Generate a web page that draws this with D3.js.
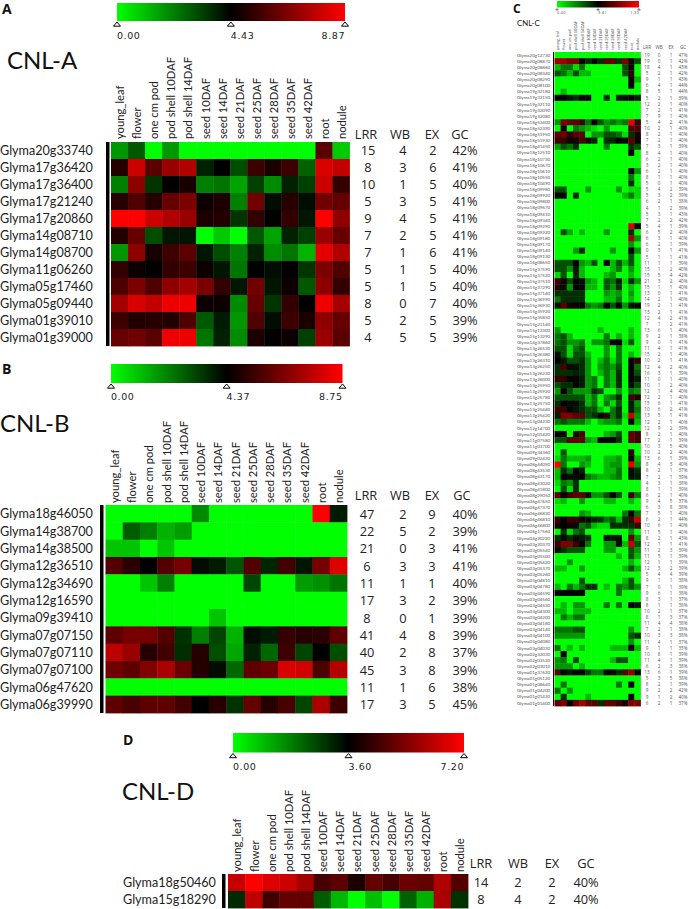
<!DOCTYPE html>
<html><head><meta charset="utf-8">
<script src="https://cdnjs.cloudflare.com/ajax/libs/d3/7.8.5/d3.min.js"></script>
<style>html,body{margin:0;padding:0;background:#fff}svg{display:block}</style>
</head><body><svg id="c" width="689" height="909"></svg>
<script>
const tissues=["young_leaf","flower","one cm pod","pod shell 10DAF","pod shell 14DAF","seed 10DAF","seed 14DAF","seed 21DAF","seed 25DAF","seed 28DAF","seed 35DAF","seed 42DAF","root","nodule"];
const metricNames=["LRR","WB","EX","GC"];

const genesA=["Glyma20g33740","Glyma17g36420","Glyma17g36400","Glyma17g21240","Glyma17g20860","Glyma14g08710","Glyma14g08700","Glyma11g06260","Glyma05g17460","Glyma05g09440","Glyma01g39010","Glyma01g39000"];
const metricsA=[[15,4,2,"42%"],[8,3,6,"41%"],[10,1,5,"40%"],[5,3,5,"41%"],[9,4,5,"41%"],[7,2,5,"41%"],[7,1,6,"41%"],[5,1,5,"40%"],[5,1,5,"40%"],[8,0,7,"40%"],[5,2,5,"39%"],[4,5,5,"39%"]];
const valuesA=[
[1.8,2.9,0,1.8,0,0,0,0,0,0,0,0,6,0.9],
[5.1,8,6,7.1,7.5,3.8,4.4,3.1,5.5,4.9,5.5,2.7,8.2,7.8],
[2.2,6.9,3.5,4.5,4.8,2.2,2.4,1.6,3.3,2,3.8,3.3,8,5.3],
[5.1,5.8,5.1,6.2,6.6,4.7,4.9,2.2,6.4,4.2,5.1,4.2,6.4,6.2],
[8.87,8.87,8,7.5,7.1,4.9,5,3.5,5.3,4.4,5.3,4,8.87,6.9],
[5,6.2,3.1,4,4.1,0,0.9,0,2.9,1.6,3.8,3.3,7.1,6.2],
[1.8,6.9,4.8,5.5,6,4,3.1,2.2,3.8,2,2.4,1.3,8.4,7.5],
[5.3,4.7,4.4,5.3,5.5,4.6,4,2.4,4.4,4.2,4.4,3.5,6.6,5.8],
[5.8,6.6,5.8,6.9,7.3,6.6,5.3,4.1,6.4,4.1,4.7,2.9,6.9,5.3],
[7.3,8.2,7.8,8.6,8.6,4.7,4.7,2,6.2,3.5,5.3,4.4,8.6,7.3],
[5.5,5,5.1,5,5.8,2.9,3.9,1.8,5.8,4.2,5.5,4.9,6.9,6.2],
[6.2,6.4,6,8.6,8.6,2.4,3.8,2,4.9,4.4,4.7,3.3,7.1,6]];

const genesB=["Glyma18g46050","Glyma14g38700","Glyma14g38500","Glyma12g36510","Glyma12g34690","Glyma12g16590","Glyma09g39410","Glyma07g07150","Glyma07g07110","Glyma07g07100","Glyma06g47620","Glyma06g39990"];
const metricsB=[[47,2,9,"40%"],[22,5,2,"39%"],[21,0,3,"41%"],[6,3,3,"41%"],[11,1,1,"40%"],[17,3,2,"39%"],[8,0,1,"39%"],[41,4,8,"39%"],[40,2,8,"37%"],[45,3,8,"39%"],[11,1,6,"38%"],[17,3,5,"45%"]];
const valuesB=[
[0,0,0,0,0,2,0,0,0,0,0,0,8.75,3.9],
[0,2.8,2.2,1.3,1.7,0,0,0,0,0,0,0,0,0],
[1,1,0,1,0,0,0,0,0,0,0,0,0,0],
[5.8,5.1,4.3,5.8,6.4,4.1,3.9,2.9,5.8,3.7,5.5,4,6.4,8.2],
[0,0,1,2.2,0,0,0,0,3.2,0,0,1.7,1.9,2.4],
[0,0,0,0,0,0,0,0,0,0,0,0,0,0],
[0,0,0,0,0,0,1,0,0,0,0,0,0,0],
[6,6.4,6.4,5.8,3.5,2.2,3.2,1.3,4.1,3.9,5.3,5,5.1,6],
[7.6,7,5,5.5,3.6,5,3,1.5,3.8,2.6,5.4,3.2,4.37,3],
[6.3,6,6.6,7.3,6.2,5,4.2,2.6,6,6.2,8.1,8,5.7,7.5],
[0,0,0,0,0,0,0,0,0,0,0,0,0,0],
[6,5.6,6,6,5.5,4.4,5,3.5,6.1,5,5.6,3.2,7.3,5.4]];

const genesD=["Glyma18g50460","Glyma15g18290"];
const metricsD=[[14,2,2,"40%"],[8,4,2,"40%"]];
const valuesD=[
[6.4,7.2,6.7,6.5,5.9,4.6,4.9,4,5,4.6,5.1,5,6.1,4.8],
[3,6.3,4.5,5,5,2.3,1,0,0.9,0,2.2,1.1,6,2.9]];

const genesC=["20g12730","20g08870","20g08860","20g08340","20g08290","20g08100","19g32180","19g32150","19g32110","19g32090","19g32080","18g52400","18g52390","18g51950","18g51930","18g41450","18g12510","18g10730","18g10670","18g10610","18g10550","18g10490","18g09980","18g09920","18g09800","18g09670","18g09410","18g09340","18g09290","18g09220","18g09180","18g09170","18g09140","18g09130","16g08650","15g37590","15g37520","15g37510","15g37290","15g37140","15g36990","15g36930","15g35920","15g35850","15g21140","15g13300","15g13290","14g37860","13g26530","13g26380","13g26310","13g26250","13g26230","13g26000","13g25950","13g25920","13g25780","13g25750","13g25440","13g25420","13g04230","12g14700","12g01420","11g07580","11g03700","09g34360","09g02420","08g44090","08g43530","08g43170","08g43020","08g41800","08g29050","06g47650","06g47370","06g46830","06g46810","06g46800","06g17560","04g20220","03g20370","03g05540","03g05500","03g05420","03g05370","03g05260","03g04810","03g04780","03g04590","03g04560","03g04530","03g04300","03g04200","03g04180","03g04140","03g04100","03g04080","03g04030","02g32030","02g03520","02g03010","01g37620","01g05120","01g08640","01g04200","01g01420","01g01400"].map(g=>"Glyma"+g);
const metricsC=[[19,0,1,"47%"],[19,0,1,"42%"],[18,4,1,"43%"],[5,2,1,"42%"],[9,1,1,"43%"],[6,4,1,"44%"],[8,5,1,"44%"],[5,2,1,"39%"],[12,2,1,"40%"],[7,2,1,"41%"],[7,9,1,"40%"],[5,4,2,"41%"],[10,2,1,"40%"],[8,2,1,"40%"],[7,2,1,"40%"],[7,3,1,"39%"],[8,4,1,"40%"],[6,2,1,"40%"],[3,2,1,"40%"],[6,2,1,"40%"],[8,1,1,"40%"],[5,0,1,"40%"],[5,4,2,"39%"],[5,3,2,"39%"],[6,2,1,"38%"],[4,1,2,"39%"],[5,3,1,"43%"],[7,2,2,"42%"],[5,4,1,"39%"],[6,5,2,"40%"],[6,3,1,"40%"],[6,2,1,"39%"],[0,3,1,"41%"],[5,1,1,"41%"],[11,1,1,"39%"],[15,1,2,"40%"],[15,5,4,"42%"],[21,3,2,"40%"],[15,1,1,"40%"],[13,0,1,"41%"],[14,2,1,"40%"],[19,2,1,"41%"],[13,2,1,"41%"],[12,4,2,"41%"],[7,1,2,"41%"],[13,6,1,"40%"],[9,2,1,"38%"],[9,0,1,"41%"],[11,4,1,"41%"],[15,2,1,"40%"],[10,2,1,"41%"],[12,4,2,"40%"],[16,3,1,"39%"],[11,0,1,"40%"],[10,1,2,"40%"],[12,1,4,"40%"],[12,2,1,"40%"],[15,6,1,"41%"],[10,6,2,"41%"],[13,5,1,"41%"],[12,2,1,"40%"],[12,9,2,"39%"],[8,2,1,"40%"],[17,2,1,"39%"],[10,3,5,"40%"],[10,2,2,"40%"],[13,6,1,"39%"],[8,4,3,"40%"],[8,2,1,"37%"],[7,2,1,"39%"],[4,3,1,"38%"],[8,1,1,"39%"],[6,2,1,"40%"],[9,4,5,"37%"],[6,3,8,"38%"],[7,5,1,"40%"],[6,2,1,"44%"],[10,6,1,"40%"],[11,5,1,"40%"],[8,2,1,"43%"],[12,1,1,"41%"],[11,2,3,"39%"],[11,5,1,"39%"],[12,1,1,"39%"],[12,3,2,"39%"],[5,4,4,"39%"],[9,1,1,"38%"],[7,0,1,"39%"],[9,6,1,"38%"],[8,3,1,"37%"],[8,1,1,"38%"],[10,2,1,"37%"],[8,1,3,"37%"],[11,4,4,"38%"],[7,2,1,"38%"],[10,3,3,"38%"],[11,4,1,"37%"],[9,1,1,"35%"],[10,8,1,"39%"],[11,4,1,"39%"],[6,2,3,"38%"],[13,6,1,"39%"],[5,3,5,"38%"],[8,2,1,"39%"],[9,2,2,"42%"],[9,1,2,"40%"],[6,2,1,"37%"]];
const valuesC=[
[0,0,0,0,0,0,0,0,0,0,0,0,0,0],
[6,6,5.5,5.5,3.7,3,3.6,3,5,5,3,5.5,3.7,2.5],
[1,2,2,0.5,2,0,0,0,0,0,0,2.5,3.9,0],
[2.5,2,1,2.5,1,1,0,0,0,0,0,2.5,4.3,0],
[0,0,0,0,0,0,0,0,0,0,0,0,3.7,1],
[0,0,0,0,0,0,0,0,0,0,0,0,3.7,0],
[0,1,0,0,0,0,0,0,0,0,0,0,0,0],
[3.7,3.7,3.4,3,3.6,3.6,0,0,3,0,3.3,3.5,3.7,3.3],
[0,0,0,0,0,0,0,0,0,0,0,0,0,0],
[0,0,0,0,0,0,0,0,0,0,0,0,0,0],
[0,0,0,0,0,0,0,0,0,0,0,0,0,0],
[1.5,5.5,5,5,4.5,2,3.7,2.5,1.5,2,1.5,2,7,4.5],
[0,3.9,0,2,1.5,1,0.5,0,1.5,0,0,0,4.8,4.8],
[5,5.2,4.3,5,5,0,1.5,1.5,2.5,2.5,2,0.5,3,4],
[4.5,4.5,3.8,4,4.7,4,3.3,0,3,3.2,3.7,3.6,5,3.7],
[1.5,2.5,2,3,0,0,0,0,2,0,0,0,3,2.5],
[0,0,0,0,0,0,0,0,0,0,0,0,3.7,0],
[0,0,0,0,0,0,0,0,0,0,0,0,0,0],
[0,0,0,0,0,0,0,0,0,0,0,0,0,0],
[0,0,0,0,0,0,0,0,0,0,0,0,3.7,1.5],
[0,0,0,0,0,0,0,0,0,0,0,0,2,0],
[0,0,0,0,0,0,0,0,0,0,0,0,3,0],
[2.5,2.5,0,0,0,1.5,0,0,0,0,1.5,0,0.5,0.5],
[3.7,3.7,0,3,0,0,0,0,0,0,0,1,2,0.5],
[0,0,0,0,0,0,0,0,0,0,0,0,0,0],
[0,0,0,0,0,0,0,0,0,0,0,0,0,0],
[0,0,0,0,0,0,0,0,0,0,0,0,0,0],
[0,0,0,0,0,0,0,0,0,0,0,0,0,0],
[0,0,0,0,0,0,0,0,0,0,0,0,6.8,3.7],
[0,2.5,1.2,0,1,0,0,0,1.5,0,0,0,3,0],
[0,0,0,0,0,0,0,0,0,0,0,0,6,1.5],
[0,0,0,0,0,0,0,0,0,0,0,0,1.5,0],
[0,0,0,1.5,3,0,0,0,0,1.5,0,0,3.7,1.5],
[0,0,0,0,0,0,0,0,0,0,0,0,2.5,0],
[2.5,2.5,2.5,3.7,1.5,1,2.5,0,3.7,1,2.5,1,2.5,0],
[2.5,2.5,1.5,3.3,1,0,0,0,0,1,2,0,1.5,0],
[0.5,2.5,0,3.2,1,0,0,0,1,1.5,0,0,1,0],
[4.5,4,2.5,3.7,3.5,1.5,1,0,2.5,2,3.3,0.5,3,1.5],
[4.2,3.5,1.5,3.6,3.6,1,1,0,2.5,1.5,3,0,1,0],
[3,3,3,3,3,0,0,0,1.5,1,1.5,0,1.5,0],
[2,3,3,3,3,0,0,0,1,1,2,0,1,0],
[3.5,5,4,3.9,3.8,2,1.5,2,3.7,2.5,3.7,1.5,3.5,3.7],
[0,0,0,0,0,0,0,0,0,0,0,0,0,0],
[0,0,0,0,0,0,0,0,0,0,0,0,0,0],
[0,0,0,0,0,0,0,0,0,0,0,0,0,0],
[1.5,0,0,0,0,0,0,1,0,0,0,0,1,0],
[2,2.5,1,0,0,0,0,0,2,0,1,0,1,0],
[2,2.5,1.5,1.5,2,0,1.5,1.5,2,3.7,3.7,0.5,2.5,0],
[2.5,2.5,0.5,2,2.5,0,0,0,1.5,0,2,0,0,0],
[3.5,2.5,0.5,2.5,2.5,1,0,0,1.5,0,2,0,1,0],
[3.7,3.3,2.5,2.5,3,1.5,0,1,2,0.5,2,0,3.7,4.4],
[3,4.7,3.5,3.5,3,1.5,0,1.5,2,1.5,2.5,0,3.7,2],
[3,3,3,3.2,3,1.5,0,1,2,1,3,0,3.7,2.5],
[4.4,4.4,3.6,3.7,3.3,1.5,2,0,2,1,3,0,3.7,3.3],
[2.5,3,3,3.7,3.3,1.5,2,0,2,1,3,0,3.5,2.5],
[1.5,3.7,2.5,1.5,1.5,1.5,3,2.5,0,0,1.5,0,2,1.5],
[2.5,2.5,2.5,2.5,2.5,1,2,0,1.5,2,3,0,4.5,4.2],
[3,3.7,3.5,3.5,3,1,2,0,2,0.5,2.5,0,3.3,1.5],
[4.5,4.5,3.7,3.4,3,2.5,2.5,1,0,2,3,0,3.3,2],
[3.3,5.5,5.5,5,5,2.5,3,3.7,4.3,2,3,0.5,6.5,1.5],
[2,2.5,2,2,2,1,0,1,1.5,1.5,2,0,3.7,1],
[0,0,0,0,0,0,0,0,0,0,0,0,0,0],
[3.7,3.7,0,3.4,4.8,0,0,0,1,1.5,2.5,0,5,4.5],
[2.5,2.5,5,5,5,1.5,1,3.7,3.7,3.7,3,0,5,4.5],
[0,0,0,0,0,0,0,0,0,0,0,0,0,0],
[0,2.5,0,0,0,0,0,0,0,0,0,0,4.2,0],
[0.5,2,1,1,1,1.5,0,0,1,1,1.5,0,3.7,1],
[7.3,2,0,0,1.5,1,0,0,1,1.5,1.5,0,7,1.5],
[1,3,2,3.7,3.2,0,0,0,1,1,2,0,3.5,3],
[1,3.7,3.5,3.5,3.7,2,1.5,1,1,1.5,2,0,3.5,3.3],
[0.5,2,1.5,3,0,0,0,0,0,0,0,0,0,0],
[0,2.5,0.5,3,0,0,0,0,0,0,0,0,0,0],
[5,3.7,4.5,5,5,3.5,1.5,1.5,2.5,3.7,2.5,0,4.5,2],
[0.5,1,0,0,1.5,0,0,0,1,1,0,0,1,0],
[0,0,0,0,0,0,0,0,0,0,0,0,0,0],
[0,0,0,0,1.5,1,0,0,0,0,0,2,3.7,2],
[4.5,3.7,4.5,4.5,3.8,3.5,3.2,3,2,2.5,1,3,4.5,6.5],
[4,3.7,4,3.5,2,2.5,1,0.5,0.5,3,3,3,3,4.5],
[0,3,0.5,2,2.5,0,0,0,0,0,0,0,1.5,0],
[3,3.5,3,3.5,3.3,3,0,0,3.5,3.3,3.5,0,5,1.5],
[4.5,5.5,5.5,4.5,3.7,2,0,0,1.5,1.5,3.5,1,6.5,2.5],
[3.5,3,2.5,2.5,2.5,0,0,0,1.5,1.5,0,0,2.5,1.5],
[0,0,0,0,0,0,0,0,0,0,1,0,2.5,1],
[0,0,1.5,0,0,0,0,0,0,0,0,0,1,0],
[1,1,0,0,1.5,0,0,0,0,0,0,1,2.5,1],
[0,0,0,0,0,0,0,0,0,0,0,0,0,0],
[0,0,0,0,2.5,0,0,0,0,0,0,1,2.5,0],
[1,0,2,1,2,3,3,0,1,0,2,1.5,2.5,1.5],
[3.7,3.7,3.7,3.7,3.7,0,0,0,0,0,2,0,0,0],
[0,0,0,0,0,0,0,0,0,0,0,0,0,0],
[0,1,0,1.5,1.5,0,0,0,2,0,2,0,3.7,3.3],
[1,1,0,1,1,1,0,0,0,0,0,0,0,0],
[0,2,1,2,2,0,0,0,0,0,0,0,0,0],
[0,0,0,0,0,0,0,0,0,0,0,0,0,0],
[2,2,2,2.5,2.5,0,0,0,0,0,0,0,1.5,0],
[1.5,1.5,1.5,1.5,1.5,0,0,0,0,0,0,0,2.5,3],
[0,0,0,0,0,0,0,0,0,0,0,0,1.5,0],
[2,0,1,0,1,0,0,0,0,1,1,1,3.7,1],
[0,3.7,0,0,0,0,0,0,0,0,0,0,0,0],
[1.5,2,0,2.5,0,0,0,0,0,1,2.5,2.5,0,0],
[1.5,1.5,1.5,0,1,0,0,0,0,0,0,0,0,0],
[5,3.7,3.4,3.7,3.7,2.8,2,2,3.7,4,3,5,5.8,3.7],
[0,0,0,0,0,0,0,0,0,0,0,0,0,0],
[0,2,0,0,0,0,0,0,0,0,2,0,3.7,0],
[2,0,1.5,0,0,0,0,0,0,0,0,0,0,0],
[0,3,0,0,0,1,0,0,0,0,0,0,3.7,0],
[5,5.5,3.7,5.2,6,5,5,3,5,5,4.5,4,5.5,5.5]];

const rangeA=[0,4.43,8.87], rangeB=[0,4.37,8.75], rangeC=[0,3.67,7.33], rangeD=[0,3.60,7.20];

const FONT='Lato,"Open Sans",sans-serif', NUMFONT='"Open Sans","Noto Sans",sans-serif', BARFONT='"DejaVu Sans",sans-serif';
const svg=d3.select("#c");
const [G,K,R]=["#00ff00","#000000","#ff0000"];
let gid=0;
const defs=svg.append("defs");

function panel(o){
  const color=d3.scaleLinear().domain(o.range).range([G,K,R]);
  const x=d3.scaleBand().domain(d3.range(tissues.length)).range([o.x0,o.x1]);
  const y=d3.scaleBand().domain(d3.range(o.genes.length)).range([o.y0,o.y1]);
  const g=svg.append("g");
  const id="grad"+(gid++);
  const grad=defs.append("linearGradient").attr("id",id);
  grad.selectAll("stop").data(o.range).join("stop")
    .attr("offset",(d,i)=>i/2).attr("stop-color",d=>color(d));
  defs.append("filter").attr("id",id+"b").attr("x","-5%").attr("y","-5%").attr("width","110%").attr("height","110%")
    .append("feGaussianBlur").attr("stdDeviation",o.blur);
  const bar=d3.scaleLinear().domain([o.range[0],o.range[2]]).range([o.barX0,o.barX1]);
  g.append("rect").attr("x",o.barX0).attr("y",o.barY0).attr("width",o.barX1-o.barX0).attr("height",o.barY1-o.barY0).attr("fill",`url(#${id})`);
  const tri=o.tri;
  g.selectAll(".tri").data(o.range).join("path")
    .attr("d",d=>`M${bar(d)-tri},${o.barY1+tri*1.2+1}L${bar(d)},${o.barY1+1}L${bar(d)+tri},${o.barY1+tri*1.2+1}Z`)
    .attr("fill","#fff").attr("stroke","#000").attr("stroke-width",o.tri>2?1:0.5);
  g.selectAll(".tick").data(o.range).join("text")
    .attr("x",d=>bar(d)).attr("y",o.tickY).attr("text-anchor",(d,i)=>i==2?"end":"start")
    .attr("font-family",BARFONT).attr("font-size",o.tickSize).attr("letter-spacing",o.tickSize*0.06).attr("fill",o.ink)
    .text(d=>d.toFixed(2));
  g.append("text").attr("x",o.letterX).attr("y",o.letterY).attr("font-family",NUMFONT).attr("font-weight",700).attr("font-size",o.letterSize).attr("fill","#111").text(o.letter);
  g.append("text").attr("x",o.titleX).attr("y",o.titleY).attr("font-family",FONT).attr("font-size",o.titleSize).attr("fill","#111").text(o.title);
  const cells=o.values.flatMap((r,i)=>r.map((v,j)=>({i,j,v})));
  g.append("g").attr("filter",`url(#${id}b)`).selectAll("rect").data(cells).join("rect")
    .attr("x",d=>x(d.j)).attr("y",d=>y(d.i)).attr("width",x.bandwidth()+0.4).attr("height",y.bandwidth()+0.4)
    .attr("fill",d=>color(d.v));
  g.append("rect").attr("x",o.sideX).attr("y",o.y0).attr("width",o.sideW).attr("height",o.y1-o.y0).attr("fill","#000");
  g.selectAll(".col").data(tissues).join("text")
    .attr("transform",(d,j)=>`translate(${x(j)+x.bandwidth()/2+o.colSize*0.36+o.colDx},${o.y0-o.colGap}) rotate(-90)`)
    .attr("font-family",FONT).attr("font-size",o.colSize).attr("fill",o.ink).text(d=>d);
  g.selectAll(".row").data(o.genes).join("text")
    .attr("x",o.labelX).attr("y",(d,i)=>y(i)+y.bandwidth()/2+o.rowSize*0.36)
    .attr("font-family",FONT).attr("font-size",o.rowSize).attr("fill",o.ink).text(d=>d);
  g.selectAll(".mh").data(metricNames).join("text")
    .attr("x",(d,k)=>o.headX[k]).attr("y",o.headY).attr("text-anchor","middle")
    .attr("font-family",NUMFONT).attr("font-size",o.headSize).attr("fill",o.ink).text(d=>d);
  const mets=o.metrics.flatMap((r,i)=>r.map((v,k)=>({i,k,v})));
  g.selectAll(".mv").data(mets).join("text")
    .attr("x",d=>o.valX[d.k]).attr("y",d=>y(d.i)+y.bandwidth()/2+o.headSize*0.38).attr("text-anchor","middle")
    .attr("font-family",NUMFONT).attr("font-size",o.headSize).attr("fill",o.ink).text(d=>d.v);
}

const big={tri:3.5,tickSize:9.5,letterSize:14,titleSize:24,colSize:11.2,colGap:3,rowSize:12.6,headSize:12.8,sideW:3.5,blur:0.4,ink:"#222",colDx:0.8};

panel({...big,letter:"A",title:"CNL-A",genes:genesA,values:valuesA,metrics:metricsA,range:rangeA,
  x0:111,x1:349.5,y0:142,y1:346,barX0:117,barX1:345,barY0:3,barY1:21,tickY:38.5,
  letterX:2,letterY:14,titleX:7,titleY:69,sideX:106,labelX:0,
  headX:[366,400,432,460],headY:139,valX:[368,403,433,465]});
panel({...big,letter:"B",title:"CNL-B",genes:genesB,values:valuesB,metrics:metricsB,range:rangeB,
  x0:105.5,x1:347,y0:505,y1:713,barX0:111,barX1:342.5,barY0:364,barY1:383,tickY:400,
  letterX:2,letterY:374,titleX:0,titleY:432,sideX:100,labelX:0,colGap:2,
  headX:[366,400,432,462],headY:500,valX:[367,403,432,465]});
panel({...big,letter:"D",title:"CNL-D",genes:genesD,values:valuesD,metrics:metricsD,range:rangeD,
  x0:228,x1:468,y0:874,y1:908,barX0:233,barX1:464,barY0:733,barY1:752.5,tickY:770,
  letterX:123,letterY:745,titleX:122,titleY:800,sideX:222,labelX:123,colGap:2,
  headX:[481,518,552,586],headY:868,valX:[481,518,552,586]});
panel({tri:1.3,tickSize:3.6,letterSize:12,titleSize:7.8,colSize:4,colGap:2,rowSize:4.5,headSize:4.6,sideW:1,blur:0.6,ink:"#555",colDx:0,
  letter:"C",title:"CNL-C",genes:genesC,values:valuesC,metrics:metricsC,range:rangeC,
  x0:554.5,x1:640.5,y0:52,y1:706,barX0:557,barX1:639,barY0:1,barY1:7.5,tickY:14,
  letterX:513,letterY:13,titleX:517,titleY:25.5,sideX:553,labelX:517,
  headX:[647,659,671,683],headY:49,valX:[647,659,671,683]});
</script></body></html>
